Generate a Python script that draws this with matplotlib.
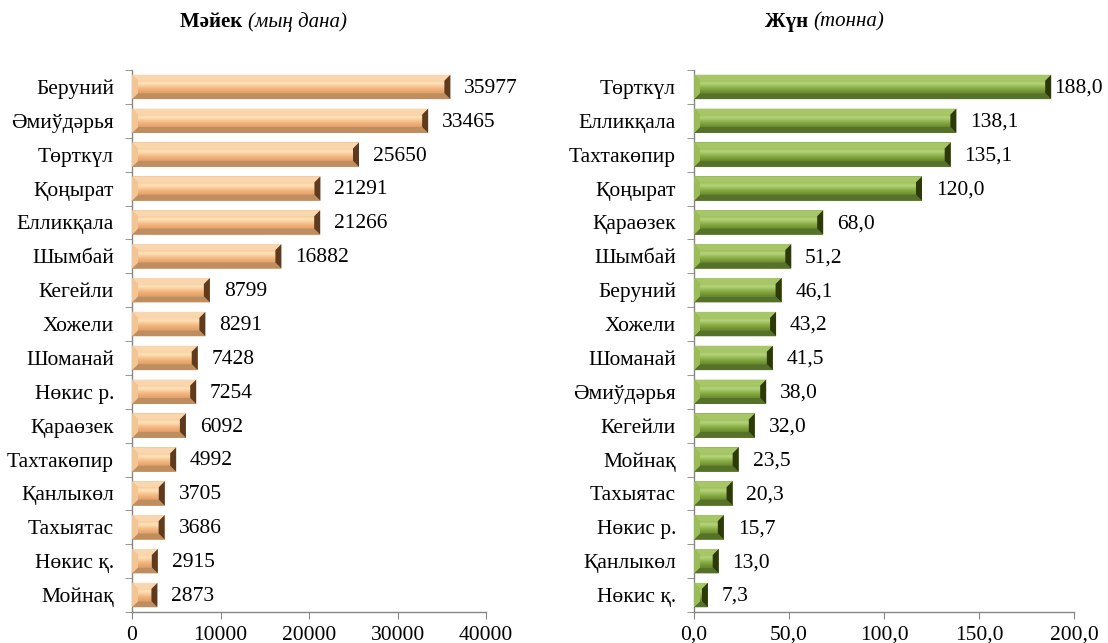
import numpy as np
import matplotlib
matplotlib.use("Agg")
import matplotlib.pyplot as plt
from matplotlib.patches import Polygon

plt.rcParams['font.family'] = ['Liberation Serif', 'DejaVu Serif']

# left panel: eggs (thousand pcs)
egg_names = ["Беруний", "Әмиўдәрья", "Төрткүл", "Қоңырат", "Елликқала", "Шымбай",
             "Кегейли", "Хожели", "Шоманай", "Нөкис р.", "Қараөзек", "Тахтакөпир",
             "Қанлыкөл", "Тахыятас", "Нөкис қ.", "Мойнақ"]
egg_vals = [35977, 33465, 25650, 21291, 21266, 16882, 8799, 8291, 7428, 7254,
            6092, 4992, 3705, 3686, 2915, 2873]
egg_ticks = [0, 10000, 20000, 30000, 40000]

# right panel: wool (tonnes)
wool_names = ["Төрткүл", "Елликқала", "Тахтакөпир", "Қоңырат", "Қараөзек", "Шымбай",
              "Беруний", "Хожели", "Шоманай", "Әмиўдәрья", "Кегейли", "Мойнақ",
              "Тахыятас", "Нөкис р.", "Қанлыкөл", "Нөкис қ."]
wool_vals = [188.0, 138.1, 135.1, 120.0, 68.0, 51.2, 46.1, 43.2, 41.5, 38.0,
             32.0, 23.5, 20.3, 15.7, 13.0, 7.3]
wool_ticks = [0, 50, 100, 150, 200]

W, H = 1108, 643
fig = plt.figure(figsize=(W / 100, H / 100), dpi=100)

spine_col = "#868686"
FS = 15.5


def bevel_bars(ax, names, vals, xmax, ticks, fmt, pal, ax_px_x, ax_px_w, ax_px_h):
    n = len(vals)
    pos = np.arange(n)[::-1]
    h = 0.72
    ax.barh(pos, vals, height=h, color=pal["face"], zorder=2)
    bev = 6.0
    dx = bev * xmax / ax_px_w
    dy = bev * n / ax_px_h
    grad = np.linspace(0, 1, 64).reshape(-1, 1)
    cmap = matplotlib.colors.LinearSegmentedColormap.from_list(
        "g", [(0, pal["low"]), (0.35, pal["face"]), (0.75, pal["hi"]), (1, pal["upper"])])
    for y, v in zip(pos, vals):
        x0, x1 = 0, v
        y0, y1 = y - h / 2, y + h / 2
        ddx = min(dx, v / 2.2)
        ax.imshow(grad, extent=[x0 + ddx, x1 - ddx, y0 + dy, y1 - dy], origin="lower",
                  aspect="auto", cmap=cmap, zorder=3, interpolation="bilinear")
        polys = [
            ([(x0, y1), (x1, y1), (x1 - ddx, y1 - dy), (x0 + ddx, y1 - dy)], pal["top"]),
            ([(x0, y0), (x1, y0), (x1 - ddx, y0 + dy), (x0 + ddx, y0 + dy)], pal["bot"]),
            ([(x0, y0), (x0, y1), (x0 + ddx, y1 - dy), (x0 + ddx, y0 + dy)], pal["left"]),
            ([(x1, y0), (x1, y1), (x1 - ddx, y1 - dy), (x1 - ddx, y0 + dy)], pal["right"]),
        ]
        for pts, c in polys:
            ax.add_patch(Polygon(pts, closed=True, facecolor=c, edgecolor="none", zorder=4))
        # squeeze the label in when it would run past the figure edge
        end_px = ax_px_x + v / xmax * ax_px_w
        off = 10 if end_px + 14 + 46 < W else 2
        ax.annotate(fmt(v), xy=(v, y), xytext=(off, -1), textcoords="offset points",
                    va="center", ha="left", fontsize=FS, zorder=5, annotation_clip=False)
    ax.set_xlim(0, xmax)
    ax.set_ylim(-0.5, n - 0.5)
    ax.set_yticks(pos, names)
    ax.set_yticks(np.arange(-0.5, n), minor=True)
    ax.tick_params(axis="y", which="major", length=0, pad=13, labelsize=FS)
    ax.tick_params(axis="y", which="minor", length=5, color=spine_col, direction="out")
    ax.set_xticks(ticks, [fmt(t) if xmax < 1000 else str(t) for t in ticks])
    ax.tick_params(axis="x", length=5, color=spine_col, pad=5, labelsize=FS)
    for s in ["top", "right"]:
        ax.spines[s].set_visible(False)
    for s in ["left", "bottom"]:
        ax.spines[s].set_color(spine_col)
        ax.spines[s].set_linewidth(1.0)


orange = dict(face="#F3B67E", hi="#FDE3BA", upper="#F7CC9A", low="#E2A068",
              top="#F9D6AE", bot="#BE8D60", left="#F2C592", right="#5E3B1E")
green = dict(face="#86AA43", hi="#B6D47A", upper="#9CBE5A", low="#6A8A2C",
             top="#A6C668", bot="#56722A", left="#9BBD58", right="#2C3A0A")

# left axes: 0 at x=132, 40000 at x=486; y from 70 to 612
axl = fig.add_axes([132 / W, 1 - 612 / H, (486 - 132) / W, (612 - 70) / H])
bevel_bars(axl, egg_names, egg_vals, 40000, egg_ticks, lambda v: f"{int(v)}",
           orange, 132, 486 - 132, 612 - 70)

axr = fig.add_axes([694 / W, 1 - 612 / H, (1074 - 694) / W, (612 - 70) / H])
bevel_bars(axr, wool_names, wool_vals, 200, wool_ticks,
           lambda v: f"{v:.1f}".replace(".", ","), green, 694, 1074 - 694, 612 - 70)

# titles: bold word followed by italic unit
t1 = fig.text(180 / W, 1 - 22 / H, "Мәйек ", fontweight="bold", fontsize=15, va="center")
fig.canvas.draw()
axl.annotate("(мың дана)", xy=(1, 0.5), xycoords=t1, va="center", ha="left",
             fontstyle="italic", fontsize=15, annotation_clip=False)
t2 = fig.text(765 / W, 1 - 22 / H, "Жүн ", fontweight="bold", fontsize=15, va="center")
axr.annotate("(тонна)", xy=(1, 0.5), xycoords=t2, va="center", ha="left",
             fontstyle="italic", fontsize=15, annotation_clip=False)

fig.savefig("out.png", dpi=100)
